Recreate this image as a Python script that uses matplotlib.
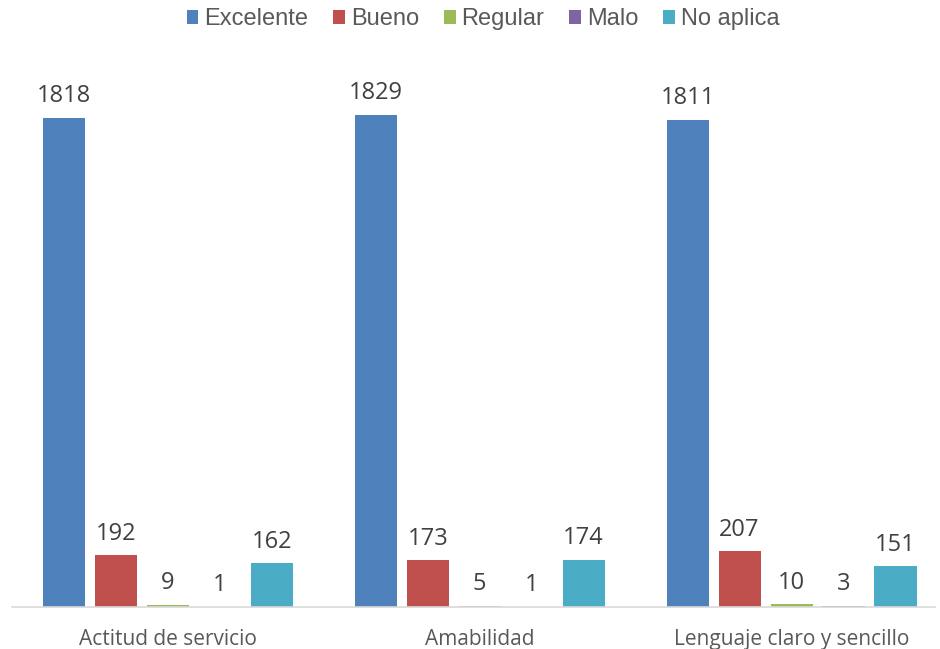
#!/usr/bin/env python3
"""Grouped bar chart: evaluación de atención (Excelente / Bueno / Regular / Malo / No aplica)."""

import matplotlib
matplotlib.use("Agg")
import matplotlib.pyplot as plt
from matplotlib.patches import Patch
import numpy as np

categories = ["Actitud de servicio", "Amabilidad", "Lenguaje claro y sencillo"]
series = ["Excelente", "Bueno", "Regular", "Malo", "No aplica"]
excelente = [1818, 1829, 1811]
bueno = [192, 173, 207]
regular = [9, 5, 10]
malo = [1, 1, 3]
no_aplica = [162, 174, 151]

colors = ["#4F81BD", "#C0504D", "#9BBB59", "#8064A2", "#4BACC6"]
values = [excelente, bueno, regular, malo, no_aplica]

plt.rcParams["font.family"] = ["Open Sans", "DejaVu Sans"]

fig = plt.figure(figsize=(9.40, 6.49), dpi=100)
W, H = 940, 649
ax = fig.add_axes([12 / W, (H - 607) / H, 923 / W, 538 / H])

x = np.arange(len(categories))
slot = 1 / 6
width = 0.135
for j, (name, vals, col) in enumerate(zip(series, values, colors)):
    bars = ax.bar(x + (j - 2) * slot, vals, width, color=col, label=name)
    ax.bar_label(bars, padding=7, fontsize=17, color="#404040")

ax.set_xlim(-0.5, 2.46)
ax.set_ylim(0, 2000)
ax.set_yticks([])
ax.set_xticks(x)
ax.set_xticklabels(categories, fontsize=15, color="#595959")
ax.tick_params(axis="x", length=0, pad=16)
for side in ("left", "right", "top"):
    ax.spines[side].set_visible(False)
ax.spines["bottom"].set_color("#D9D9D9")
ax.spines["bottom"].set_linewidth(1.2)

handles = [Patch(facecolor=c, label=s) for s, c in zip(series, colors)]
fig.legend(handles=handles, loc="center", bbox_to_anchor=(483 / W, 1 - 19 / H),
           ncol=5, frameon=False, handlelength=0.5, handleheight=0.55,
           handletextpad=0.25, columnspacing=1.05,
           prop={"family": "Liberation Sans", "size": 17}, labelcolor="#595959")

fig.savefig("out.png", dpi=100)
